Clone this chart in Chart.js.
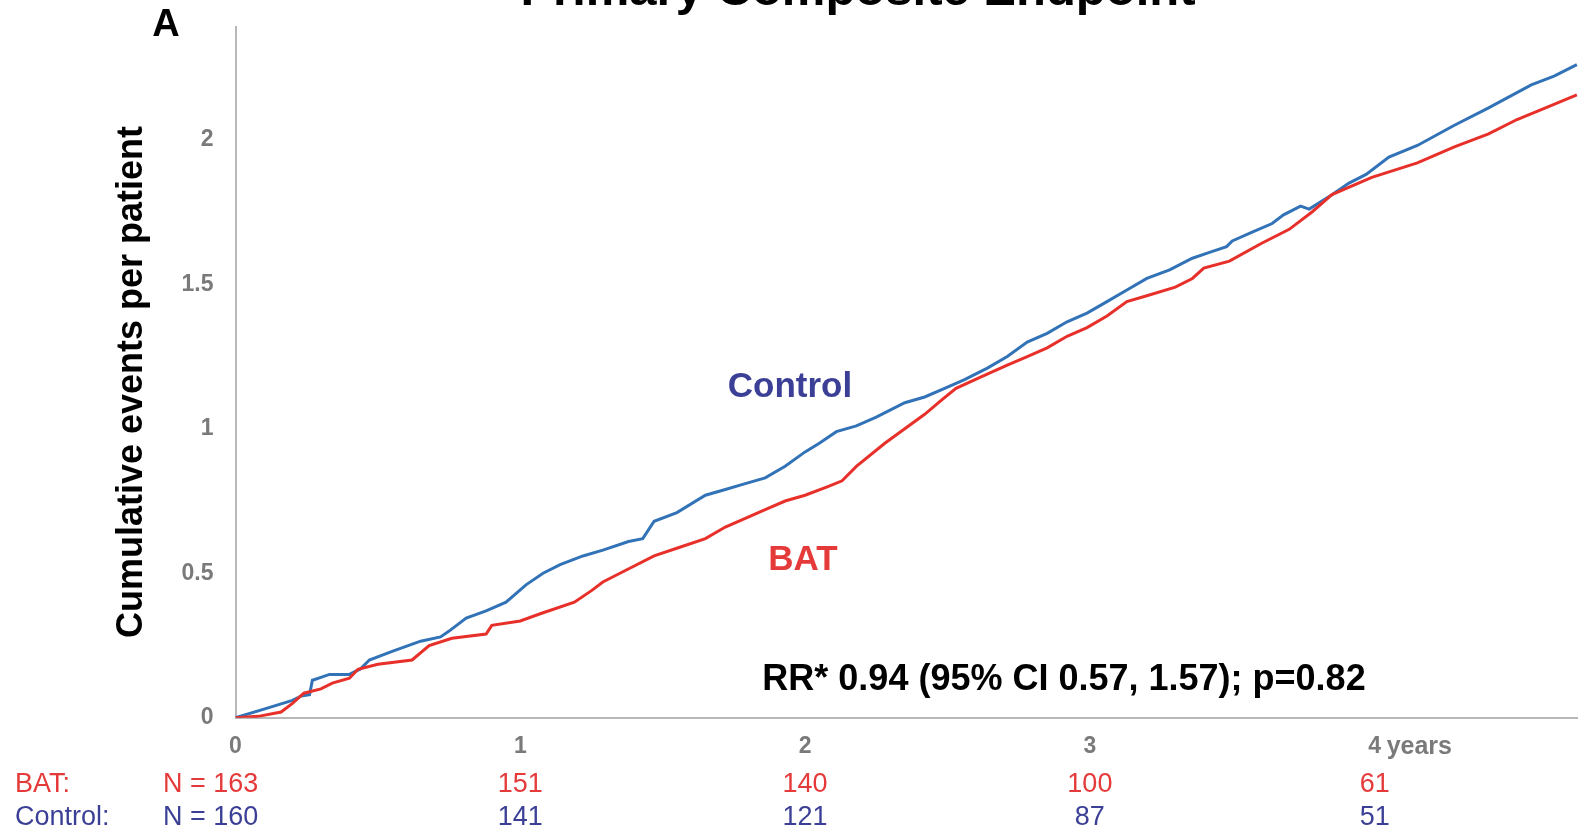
<!DOCTYPE html>
<html>
<head>
<meta charset="utf-8">
<script src="https://cdn.jsdelivr.net/npm/chart.js@4.4.1/dist/chart.umd.min.js"></script>
<style>
  html, body { margin: 0; padding: 0; background: #fff; }
  #wrap { width: 1578px; height: 835px; position: relative; }
</style>
</head>
<body>
<div id="wrap"><canvas id="kmChart"></canvas></div>
<script>
// Cumulative events per patient
const controlYears = [0, 0.1, 0.2, 0.23, 0.26, 0.27, 0.3, 0.33, 0.4, 0.44, 0.47, 0.55, 0.65, 0.72, 0.75, 0.81, 0.88, 0.95,
  1.02, 1.08, 1.14, 1.22, 1.29, 1.38, 1.43, 1.47, 1.55, 1.65, 1.72, 1.79, 1.86, 1.93, 2.0, 2.05, 2.11, 2.18, 2.25,
  2.35, 2.42, 2.49, 2.56, 2.64, 2.71, 2.78, 2.85, 2.92, 2.99, 3.06, 3.13, 3.2, 3.28, 3.36, 3.42, 3.48, 3.5, 3.57,
  3.64, 3.68, 3.74, 3.77, 3.85, 3.91, 3.97, 4.05, 4.15, 4.28, 4.4, 4.55, 4.63, 4.71];
const controlEvents = [0, 0.03, 0.06, 0.075, 0.08, 0.13, 0.14, 0.15, 0.15, 0.17, 0.2, 0.23, 0.265, 0.28, 0.3, 0.345, 0.37, 0.4,
  0.46, 0.5, 0.53, 0.56, 0.58, 0.61, 0.62, 0.68, 0.71, 0.77, 0.79, 0.81, 0.83, 0.87, 0.92, 0.95, 0.99, 1.01, 1.04,
  1.09, 1.11, 1.14, 1.17, 1.21, 1.25, 1.3, 1.33, 1.37, 1.4, 1.44, 1.48, 1.52, 1.55, 1.59, 1.61, 1.63, 1.65, 1.68,
  1.71, 1.74, 1.77, 1.76, 1.81, 1.85, 1.88, 1.94, 1.98, 2.05, 2.11, 2.19, 2.22, 2.26];

const batYears = [0, 0.08, 0.16, 0.2, 0.24, 0.3, 0.34, 0.4, 0.43, 0.5, 0.62, 0.68, 0.76, 0.88, 0.9, 1.0, 1.07, 1.19, 1.25,
  1.29, 1.35, 1.47, 1.56, 1.65, 1.72, 1.79, 1.86, 1.93, 2.0, 2.08, 2.13, 2.18, 2.28, 2.35, 2.42, 2.48, 2.53, 2.62,
  2.71, 2.78, 2.85, 2.92, 2.99, 3.06, 3.13, 3.2, 3.3, 3.36, 3.4, 3.49, 3.6, 3.7, 3.78, 3.85, 3.99, 4.15, 4.28, 4.4,
  4.5, 4.6, 4.71];
const batEvents = [0, 0.005, 0.02, 0.05, 0.085, 0.1, 0.12, 0.137, 0.168, 0.185, 0.2, 0.25, 0.275, 0.29, 0.32, 0.335, 0.36, 0.4, 0.44,
  0.47, 0.5, 0.56, 0.59, 0.62, 0.66, 0.69, 0.72, 0.75, 0.77, 0.8, 0.82, 0.87, 0.95, 1.0, 1.05, 1.1, 1.14, 1.18,
  1.22, 1.25, 1.28, 1.32, 1.35, 1.39, 1.44, 1.46, 1.49, 1.52, 1.556, 1.58, 1.64, 1.69, 1.75, 1.81, 1.87, 1.92, 1.975, 2.02,
  2.07, 2.11, 2.155];

// number at risk table
const riskYears = [0, 1, 2, 3, 4];
const batAtRisk = [163, 151, 140, 100, 61];
const controlAtRisk = [160, 141, 121, 87, 51];
const yTicks = [0, 0.5, 1, 1.5, 2];

const RED = "#e8302a";
const BLUE = "#3273b8";
const RED_TXT = "#e53a3a";
const BLUE_TXT = "#3b3f96";
const FONT = "Liberation Sans, Arial, sans-serif";

const toPoints = (xs, ys) => xs.map((x, i) => ({ x: x, y: ys[i] }));

const annotate = {
  id: "annotate",
  afterDraw(chart) {
    const ctx = chart.ctx;
    const xs = chart.scales.x;
    ctx.save();

    // title (cut off at top in the original)
    ctx.fillStyle = "#000";
    ctx.textAlign = "center";
    ctx.textBaseline = "alphabetic";
    ctx.font = "bold 49px " + FONT;
    ctx.fillText("Primary Composite Endpoint", 858, 5);

    ctx.font = "bold 38px " + FONT;
    ctx.fillText("A", 166, 36);

    // y axis title
    ctx.save();
    ctx.translate(132, 382);
    ctx.rotate(-Math.PI / 2);
    ctx.textBaseline = "middle";
    ctx.font = "bold 36px " + FONT;
    ctx.fillText("Cumulative events per patient", 0, 0);
    ctx.restore();

    // series labels
    ctx.textBaseline = "middle";
    ctx.font = "bold 35px " + FONT;
    ctx.fillStyle = BLUE_TXT;
    ctx.fillText("Control", 790, 387);
    ctx.fillStyle = RED_TXT;
    ctx.fillText("BAT", 803, 560);

    ctx.fillStyle = "#000";
    ctx.font = "bold 36px " + FONT;
    ctx.fillText("RR* 0.94 (95% CI 0.57, 1.57); p=0.82", 1064, 680);

    // "years" after the 4 tick
    ctx.fillStyle = "#7a7a7a";
    ctx.font = "bold 25px " + FONT;
    ctx.textAlign = "left";
    ctx.textBaseline = "alphabetic";
    ctx.fillText("years", xs.getPixelForValue(4) + 12, 754);

    // numbers at risk
    ctx.textBaseline = "middle";
    ctx.font = "27px " + FONT;
    ctx.fillStyle = RED_TXT;
    ctx.fillText("BAT:", 15, 785);
    ctx.fillStyle = BLUE_TXT;
    ctx.fillText("Control:", 15, 818);
    riskYears.forEach((yr, i) => {
      const px = xs.getPixelForValue(yr);
      if (i === 0) {
        ctx.textAlign = "left";
        ctx.fillStyle = RED_TXT;
        ctx.fillText("N = " + batAtRisk[i], 163, 785);
        ctx.fillStyle = BLUE_TXT;
        ctx.fillText("N = " + controlAtRisk[i], 163, 818);
      } else {
        ctx.textAlign = "center";
        ctx.fillStyle = RED_TXT;
        ctx.fillText(String(batAtRisk[i]), px, 785);
        ctx.fillStyle = BLUE_TXT;
        ctx.fillText(String(controlAtRisk[i]), px, 818);
      }
    });
    ctx.restore();
  },
};

const ctx = document.getElementById("kmChart").getContext("2d");
new Chart(ctx, {
  type: "line",
  data: {
    datasets: [
      {
        label: "BAT",
        data: toPoints(batYears, batEvents),
        borderColor: RED,
        borderWidth: 3,
        pointRadius: 0,
        tension: 0,
      },
      {
        label: "Control",
        data: toPoints(controlYears, controlEvents),
        borderColor: BLUE,
        borderWidth: 3,
        pointRadius: 0,
        tension: 0,
      },
    ],
  },
  options: {
    responsive: true,
    maintainAspectRatio: false,
    animation: false,
    layout: { padding: { top: 27, right: 0, bottom: 60.4, left: 0 } },
    plugins: {
      legend: { display: false },
      tooltip: { enabled: false },
    },
    scales: {
      x: {
        type: "linear",
        min: 0,
        max: 4.714,
        afterBuildTicks: (scale) => {
          scale.ticks = riskYears.map((v) => ({ value: v }));
        },
        grid: { display: false, drawTicks: false },
        border: { display: true, color: "#b8b8b8", width: 2 },
        ticks: {
          padding: 14.6,
          color: "#7a7a7a",
          font: { family: FONT, size: 23, weight: "bold" },
          maxRotation: 0,
          callback: (v) => String(v),
        },
      },
      y: {
        min: 0,
        max: 2.39,
        afterBuildTicks: (scale) => {
          scale.ticks = yTicks.map((v) => ({ value: v }));
        },
        afterFit: (scale) => {
          scale.width = 235.5;
          scale.paddingTop = 0;
        },
        grid: { display: false, drawTicks: false },
        border: { display: true, color: "#b8b8b8", width: 2 },
        ticks: {
          padding: 22,
          color: "#7a7a7a",
          font: { family: FONT, size: 23, weight: "bold" },
          callback: (v) => String(v),
        },
      },
    },
  },
  plugins: [annotate],
});
</script>
</body>
</html>
